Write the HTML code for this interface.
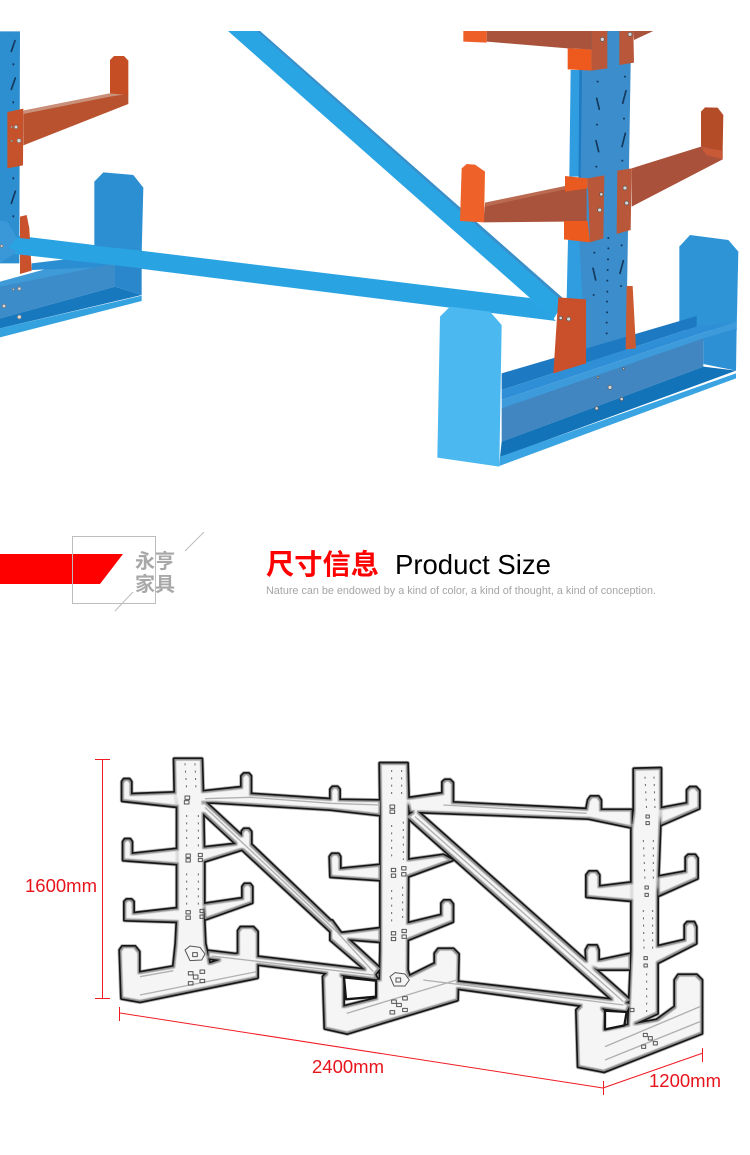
<!DOCTYPE html>
<html lang="zh">
<head>
<meta charset="utf-8">
<title>Product Size</title>
<style>
html,body{margin:0;padding:0;background:#fff;width:750px;height:1155px;overflow:hidden}
svg{display:block;position:absolute;left:0;top:0}
text{font-family:"Liberation Sans","Noto Sans CJK SC",sans-serif}
</style>
</head>
<body>
<svg width="750" height="1155" viewBox="0 0 750 1155" xmlns="http://www.w3.org/2000/svg">
<defs>
<filter id="inset" x="-5%" y="-5%" width="110%" height="110%" color-interpolation-filters="sRGB">
  <feMorphology operator="erode" radius="5"/>
  <feGaussianBlur stdDeviation="1.5"/>
</filter>
<filter id="soft" x="-5%" y="-5%" width="110%" height="110%">
  <feGaussianBlur stdDeviation="1.2"/>
</filter>
<g id="frame">
  <polygon points="253,27 335,27 338,125 342,340 342,510 345,580 352,610 360,650 250,655 258,580 262,500 262,340 262,170 255,130"/>
  <polygon points="97,95 102,88 118,88 123,95 123,133 255,128 262,170 97,152"/>
  <polygon points="335,125 455,112 455,78 462,71 476,71 482,78 482,132 335,157"/>
  <polygon points="100,275 105,268 120,268 125,275 125,312 262,297 262,342 100,330"/>
  <polygon points="340,293 456,280 456,244 462,237 476,237 483,245 483,290 340,335"/>
  <polygon points="104,455 110,449 124,449 130,455 130,490 262,475 265,515 104,510"/>
  <polygon points="342,462 458,445 458,410 464,402 480,402 486,410 486,458 345,508"/>
  <polygon points="90,600 97,590 135,590 147,605 147,668 250,650 360,640 445,610 445,542 452,532 490,532 502,545 502,683 150,755 95,745"/>
  <polygon points="340,128 480,132 722,148 722,118 728,111 742,111 748,118 748,150 870,152 870,195 720,178 370,157 340,157"/>
  <polygon points="320,172 345,155 485,285 722,512 726,512 750,545 870,655 850,680 722,570 722,545"/>
  <polygon points="355,603 850,662 862,688 355,625"/>
  <polygon points="870,40 952,40 955,150 952,660 962,690 870,700 872,600 872,195"/>
  <polygon points="720,320 726,312 745,312 750,320 750,357 870,345 870,390 722,380"/>
  <polygon points="750,550 870,535 870,575 745,565"/>
  <polygon points="952,145 1058,130 1058,96 1065,90 1080,90 1088,98 1088,158 1500,178 1495,205 960,185"/>
  <polygon points="952,330 1060,315 1088,330 952,380"/>
  <polygon points="952,520 1055,495 1055,460 1062,452 1080,452 1088,462 1088,515 952,570"/>
  <polygon points="955,680 1100,690 1100,700 965,700"/>
  <polygon points="950,200 978,180 1620,750 1590,770"/>
  <polygon points="955,678 1575,750 1620,762 1610,785 990,700"/>
  <polygon points="700,680 712,668 745,670 760,680 760,770 860,745 860,690 955,680 1035,640 1035,610 1045,597 1090,597 1105,612 1102,750 772,850 705,835"/>
  <polygon points="1490,175 1495,150 1502,140 1525,140 1532,150 1532,180 1625,180 1625,232 1495,205"/>
  <polygon points="1632,57 1712,55 1712,175 1702,440 1702,790 1615,830 1625,600 1625,235 1632,180"/>
  <polygon points="1712,175 1792,160 1792,120 1800,112 1818,112 1827,122 1827,175 1712,225"/>
  <polygon points="1490,375 1498,365 1520,365 1527,375 1527,410 1625,398 1625,452 1490,440"/>
  <polygon points="1705,380 1788,365 1788,322 1795,315 1815,315 1822,325 1822,385 1705,437"/>
  <polygon points="1488,600 1495,587 1520,587 1525,600 1525,632 1620,612 1620,658 1520,658 1490,640"/>
  <polygon points="1700,590 1785,570 1785,525 1792,517 1812,517 1818,530 1818,580 1700,640"/>
  <polygon points="1460,780 1475,765 1525,765 1545,785 1542,840 1615,825 1700,810 1755,770 1755,690 1765,675 1820,675 1835,690 1835,850 1542,965 1465,950"/>
</g>
</defs>

<!-- TOP PHOTO: braces -->
<polygon points="228,31 260,31 565,300 553,320 530,298" fill="#2aa5e4"/>
<polygon points="260,31 565,300 563,302 257,31" fill="#3a8fc8"/>
<polygon points="20,236 530,298 556,321 0,251 0,240" fill="#2aa3e3"/>

<!-- TOP LEFT -->
<g transform="scale(.33333)">
  <polygon points="0,94 60,94 58,790 0,790" fill="#2e8fd0"/>
  <g stroke="#14385c" stroke-width="5" stroke-linecap="round">
    <line x1="45" y1="122" x2="34" y2="154"/><line x1="46" y1="234" x2="34" y2="268"/><line x1="46" y1="574" x2="34" y2="610"/>
    <line x1="40" y1="192" x2="40" y2="194"/><line x1="40" y1="306" x2="40" y2="308"/><line x1="40" y1="534" x2="40" y2="536"/><line x1="40" y1="648" x2="40" y2="650"/>
  </g>
  <polygon points="60,650 80,645 88,685 95,812 60,822" fill="#c9512b"/>
  <polygon points="283,545 310,517 400,525 430,563 425,760 283,745" fill="#2c8fd2"/>
  <polygon points="0,845 230,782 345,790 0,880" fill="#3f9ad8"/>
  <polygon points="95,790 345,760 425,750 425,790 345,800 95,810" fill="#2c8ed2"/>
  <polygon points="0,860 345,790 345,860 0,955" fill="#3c8cca"/>
  <polygon points="345,790 425,790 425,885 345,860" fill="#2a87cb"/>
  <polygon points="0,955 345,860 425,885 0,985" fill="#1878be"/>
  <polygon points="0,985 425,887 425,903 0,1012" fill="#35a2e0"/>
  <polygon points="20,710 425,752 425,805 0,757" fill="#2aa3e3"/>
  <polygon points="0,662 22,665 50,712 25,742 50,755 0,790" fill="#3a97d8"/>
  <polygon points="70,332 330,280 385,282 385,312 70,436" fill="#b9532f"/>
  <polygon points="70,332 330,280 385,282 330,290 70,342" fill="#c9907a"/>
  <polygon points="330,180 342,168 372,168 385,182 385,285 330,280" fill="#c54e24"/>
  <polygon points="22,336 70,326 69,496 22,505" fill="#c5522a"/>
  <g fill="#d8d8d8" stroke="#777" stroke-width="2">
    <circle cx="48" cy="381" r="5"/><circle cx="57" cy="422" r="6"/><circle cx="35" cy="381" r="2.5"/><circle cx="35" cy="423" r="2.5"/>
    <circle cx="58" cy="866" r="5"/><circle cx="40" cy="868" r="3"/><circle cx="12" cy="918" r="5"/><circle cx="58" cy="951" r="6"/><circle cx="5" cy="738" r="4"/>
  </g>
</g>

<!-- TOP RIGHT -->
<g transform="translate(420,20) scale(.33333)">
  <polygon points="452,150 485,150 478,470 448,470" fill="#2f9de0"/>
  <polygon points="444,660 478,660 498,840 440,835" fill="#2f9de0"/>
  <polygon points="480,150 500,33 640,33 632,130 618,1010 497,1040 478,660" fill="#3b8dcb"/>
  <polygon points="478,150 486,150 480,660 474,660" fill="#1f7cc4"/>
  <g stroke="#14385c" stroke-width="5" stroke-linecap="round">
    <line x1="530" y1="235" x2="538" y2="268"/><line x1="618" y1="212" x2="608" y2="250"/>
    <line x1="528" y1="362" x2="536" y2="395"/><line x1="616" y1="340" x2="606" y2="380"/>
    <line x1="519" y1="745" x2="527" y2="780"/><line x1="610" y1="722" x2="600" y2="760"/>
  </g>
  <g fill="#14385c">
    <circle cx="533" cy="185" r="3"/><circle cx="615" cy="170" r="3"/><circle cx="531" cy="314" r="3"/><circle cx="612" cy="296" r="3"/><circle cx="529" cy="440" r="3"/><circle cx="607" cy="422" r="3"/>
    <circle cx="565" cy="654" r="3"/><circle cx="565" cy="685" r="3"/><circle cx="564" cy="718" r="3"/><circle cx="563" cy="750" r="3"/><circle cx="562" cy="782" r="3"/><circle cx="562" cy="815" r="3"/><circle cx="561" cy="845" r="3"/><circle cx="561" cy="877" r="3"/><circle cx="560" cy="908" r="3"/><circle cx="560" cy="940" r="3"/>
    <circle cx="523" cy="698" r="3"/><circle cx="605" cy="676" r="3"/><circle cx="521" cy="825" r="3"/><circle cx="603" cy="798" r="3"/>
  </g>
  <!-- upper arms -->
  <polygon points="200,33 515,33 515,88 443,85 200,65" fill="#a9533c"/>
  <polygon points="130,33 200,33 200,68 130,65" fill="#ee5f28"/>
  <polygon points="443,85 515,88 515,152 443,148" fill="#ee5a1e"/>
  <polygon points="515,33 562,33 562,145 515,152" fill="#b8573a"/>
  <polygon points="598,33 640,33 642,128 598,135" fill="#b8573a"/>
  <polygon points="640,33 700,33 642,60" fill="#a9533c"/>
  <!-- middle arms -->
  <polygon points="195,550 435,500 500,505 500,603 430,605 190,607" fill="#a9533c"/>
  <polygon points="195,548 435,498 435,508 195,560" fill="#b96a50"/>
  <polygon points="125,445 140,432 165,434 195,455 192,607 120,603" fill="#ee622a"/>
  <polygon points="435,468 503,475 503,505 435,515" fill="#e85a20"/>
  <polygon points="432,603 503,603 510,667 432,658" fill="#ec5a1e"/>
  <polygon points="503,475 553,466 550,655 510,667" fill="#b8573a"/>
  <polygon points="635,445 843,380 908,390 908,418 635,560" fill="#a9513a"/>
  <polygon points="843,380 843,275 855,262 893,263 910,285 908,392" fill="#b54c28"/>
  <polygon points="843,382 908,392 908,418 860,405" fill="#c85a38"/>
  <polygon points="592,452 635,445 632,630 590,642" fill="#b8573a"/>
  <!-- base -->
  <polygon points="778,680 810,645 925,660 955,695 950,930 778,930" fill="#2e94d6"/>
  <polygon points="245,1060 830,888 830,920 245,1110" fill="#1d7ac2"/>
  <polygon points="245,1110 830,920 950,905 245,1140" fill="#2f8fd6"/>
  <polygon points="245,1140 950,905 950,930 245,1168" fill="#3d9bdb"/>
  <polygon points="245,1165 850,955 850,1040 245,1265" fill="#4186c1"/>
  <polygon points="850,955 950,925 948,1052 850,1032" fill="#2e90d4"/>
  <polygon points="245,1265 850,1040 948,1052 240,1312" fill="#1273b8"/>
  <polygon points="240,1310 948,1060 948,1075 238,1338" fill="#3aa3e2"/>
  <polygon points="415,832 498,838 498,1030 400,1060" fill="#c9502a"/>
  <polygon points="620,798 638,798 648,985 617,988" fill="#cc5a30"/>
  <polygon points="60,890 90,860 210,875 245,915 238,1340 52,1313" fill="#4bb9ef"/>
  <g fill="#d5d5d5" stroke="#555" stroke-width="2">
    <circle cx="547" cy="58" r="6"/><circle cx="630" cy="43" r="6"/><circle cx="544" cy="523" r="5"/><circle cx="539" cy="570" r="6"/><circle cx="615" cy="504" r="6"/><circle cx="620" cy="549" r="6"/>
    <circle cx="422" cy="894" r="5"/><circle cx="446" cy="897" r="6"/><circle cx="534" cy="1072" r="3"/><circle cx="611" cy="1046" r="3"/><circle cx="570" cy="1102" r="6"/><circle cx="530" cy="1165" r="5"/><circle cx="605" cy="1137" r="5"/>
  </g>
</g>

<!-- HEADER -->
<polygon points="0,554 123,554 100,584 0,584" fill="#ff0000"/>
<rect x="72.5" y="536.5" width="83" height="67" fill="none" stroke="#bdbdbd" stroke-width="1"/>
<line x1="185" y1="551" x2="204" y2="532" stroke="#bdbdbd"/>
<line x1="115" y1="611" x2="133" y2="592" stroke="#bdbdbd"/>
<text x="135" y="568" font-size="20" font-weight="700" fill="#a8a8a8" textLength="40" lengthAdjust="spacingAndGlyphs">永亨</text>
<text x="135" y="591" font-size="20" font-weight="700" fill="#a8a8a8" textLength="40" lengthAdjust="spacingAndGlyphs">家具</text>
<text x="266" y="574" font-size="28" font-weight="700" fill="#ff0000" textLength="113" lengthAdjust="spacingAndGlyphs">尺寸信息</text>
<text x="395" y="574" font-size="27.5" fill="#000">Product Size</text>
<text x="266" y="594" font-size="11" fill="#a5a5a5" textLength="390" lengthAdjust="spacingAndGlyphs">Nature can be endowed by a kind of color, a kind of thought, a kind of conception.</text>

<!-- LINE DRAWING -->
<g transform="translate(90,750) scale(.33333)" stroke-linejoin="round">
  <use href="#frame" fill="#b5b5b5" stroke="#b5b5b5" stroke-width="15"/>
  <use href="#frame" fill="#161616" stroke="#161616" stroke-width="10"/>
  <use href="#frame" fill="#8c8c8c"/>
  <g filter="url(#inset)"><use href="#frame" fill="#f5f5f5"/></g>
  <g fill="none" stroke="#b0b0b0" stroke-width="4">
    <polyline points="345,146 480,142 722,160 870,165"/>
    <polyline points="1060,165 1490,190"/>
    <polyline points="345,172 740,545 850,665"/>
    <polyline points="975,200 1600,755"/>
    <polyline points="365,618 850,675"/>
    <polyline points="1000,690 1600,765"/>
    <polyline points="150,680 250,662"/>
    <polyline points="150,735 500,665"/>
    <polyline points="770,790 1100,690"/>
    <polyline points="1545,890 1830,770"/>
    <polyline points="1545,930 1830,815"/>
  </g>
  <g fill="none" stroke="#555" stroke-width="3">
    <rect x="285" y="138" width="14" height="10"/><rect x="283" y="152" width="14" height="10"/><rect x="288" y="312" width="13" height="10"/><rect x="288" y="326" width="13" height="10"/><rect x="325" y="310" width="12" height="10"/><rect x="325" y="325" width="12" height="10"/>
    <rect x="288" y="482" width="13" height="10"/><rect x="288" y="498" width="13" height="10"/><rect x="330" y="478" width="12" height="10"/><rect x="330" y="495" width="12" height="10"/>
    <rect x="308" y="608" width="14" height="12"/><rect x="295" y="665" width="14" height="10"/><rect x="310" y="675" width="14" height="12"/><rect x="330" y="660" width="14" height="10"/><rect x="295" y="695" width="14" height="10"/><rect x="330" y="688" width="14" height="10"/>
    <rect x="900" y="165" width="14" height="10"/><rect x="900" y="180" width="14" height="10"/><rect x="904" y="355" width="13" height="10"/><rect x="904" y="372" width="13" height="10"/><rect x="935" y="350" width="13" height="10"/><rect x="935" y="368" width="13" height="10"/>
    <rect x="904" y="545" width="13" height="10"/><rect x="904" y="562" width="13" height="10"/><rect x="936" y="538" width="13" height="10"/><rect x="936" y="555" width="13" height="10"/>
    <rect x="918" y="684" width="14" height="12"/><rect x="905" y="750" width="14" height="10"/><rect x="920" y="760" width="14" height="10"/><rect x="938" y="740" width="14" height="10"/><rect x="938" y="775" width="14" height="10"/><rect x="900" y="782" width="14" height="10"/>
    <rect x="1668" y="195" width="10" height="9"/><rect x="1668" y="215" width="10" height="9"/><rect x="1665" y="408" width="10" height="9"/><rect x="1665" y="430" width="10" height="9"/><rect x="1662" y="620" width="10" height="9"/><rect x="1662" y="642" width="10" height="9"/><rect x="1620" y="775" width="12" height="10"/>
    <rect x="1660" y="850" width="12" height="10"/><rect x="1675" y="860" width="12" height="10"/><rect x="1655" y="885" width="12" height="10"/><rect x="1690" y="875" width="12" height="10"/>
    <polygon points="285,600 300,588 330,592 345,612 335,630 300,632"/>
    <polygon points="900,680 915,668 945,672 958,690 945,708 912,708"/>
  </g>
  <g stroke="#666" stroke-width="3" stroke-dasharray="6 16" fill="none">
    <line x1="285" y1="40" x2="290" y2="120"/><line x1="315" y1="40" x2="318" y2="120"/>
    <line x1="290" y1="195" x2="290" y2="290"/><line x1="325" y1="195" x2="325" y2="290"/>
    <line x1="290" y1="370" x2="290" y2="470"/><line x1="325" y1="370" x2="325" y2="470"/>
    <line x1="905" y1="60" x2="905" y2="140"/><line x1="935" y1="60" x2="935" y2="140"/>
    <line x1="905" y1="225" x2="905" y2="335"/><line x1="940" y1="215" x2="940" y2="330"/>
    <line x1="905" y1="420" x2="905" y2="530"/><line x1="938" y1="410" x2="938" y2="520"/>
    <line x1="1665" y1="80" x2="1670" y2="180"/><line x1="1692" y1="80" x2="1695" y2="180"/>
    <line x1="1660" y1="270" x2="1665" y2="390"/><line x1="1690" y1="270" x2="1690" y2="390"/>
    <line x1="1660" y1="480" x2="1662" y2="600"/><line x1="1688" y1="480" x2="1688" y2="600"/>
    <line x1="1670" y1="670" x2="1670" y2="800"/>
  </g>
  <polygon points="762,682 858,692 858,740 768,748" fill="#fff" stroke="#161616" stroke-width="7"/>
  <polygon points="1545,782 1610,786 1603,826 1545,838" fill="#fff" stroke="#161616" stroke-width="7"/>
</g>

<!-- DIMENSIONS -->
<g stroke="#f01c24" stroke-width="1" fill="none">
  <line x1="102.5" y1="759" x2="102.5" y2="998"/>
  <line x1="95" y1="759.5" x2="110" y2="759.5"/>
  <line x1="95" y1="998.5" x2="110" y2="998.5"/>
  <line x1="119.5" y1="1007" x2="119.5" y2="1021"/>
  <line x1="120" y1="1013" x2="603" y2="1088"/>
  <line x1="603.5" y1="1081" x2="603.5" y2="1095"/>
  <line x1="603" y1="1088" x2="703" y2="1053"/>
  <line x1="702.5" y1="1048" x2="702.5" y2="1062"/>
</g>
<text x="25" y="892" font-size="18.5" fill="#e8141c">1600mm</text>
<text x="312" y="1073" font-size="18.5" fill="#e8141c">2400mm</text>
<text x="649" y="1087" font-size="18.5" fill="#e8141c">1200mm</text>
</svg>
</body>
</html>
